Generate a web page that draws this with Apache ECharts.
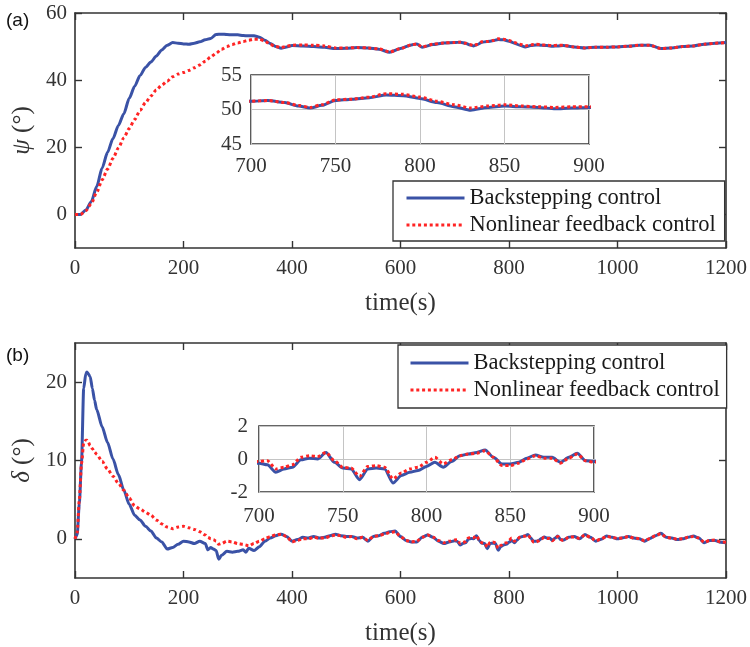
<!DOCTYPE html>
<html>
<head>
<meta charset="utf-8">
<title>Heading and rudder response</title>
<script src="https://cdn.jsdelivr.net/npm/echarts@6/dist/echarts.min.js"></script>
<style>
  html, body { margin: 0; padding: 0; background: #fff; }
  #chart { width: 750px; height: 647px; }
</style>
</head>
<body>
<div id="chart"></div>
<script>
// ---- panel (a): heading angle psi (deg) ----
const timeA = [0,10,20,30,40,50,60,70,80,90,100,110,120,130,140,150,160,170,180,190,
  200,210,220,230,240,250,260,270,280,290,300,310,320,330,340,350,360,370,380,390,
  400,420,440,460,480,500,520,540,560,580,600,620,630,640,660,680,
  700,710,720,728,735,742,750,760,770,780,790,800,810,820,830,840,850,860,870,880,890,900,
  920,940,960,980,1000,1020,1040,1060,1080,1100,1120,1140,1160,1180,1200];

const psiBackstepping = [0,0,1.3,3.8,8.3,13.8,18.5,22.6,26.5,30.0,34.6,38.2,41.4,43.8,45.4,47.2,49.0,50.4,51.2,51.0,
  50.8,50.7,51.0,51.4,52.0,52.4,53.6,53.7,53.6,53.5,53.5,53.3,53.2,53.2,52.8,51.9,50.9,50.0,49.5,49.9,
  50.3,50.2,50.0,49.8,49.4,49.5,49.7,49.6,49.2,48.3,49.4,50.5,50.8,49.8,50.6,51.1,
  51.2,51.3,51.0,50.5,50.2,50.6,51.3,51.5,51.7,52.1,52.0,51.6,51.0,50.4,49.9,50.3,50.5,50.4,50.3,50.1,50.2,50.3,
  49.9,49.6,49.8,49.8,49.9,50.1,50.4,50.4,49.4,49.6,50.0,50.2,50.7,51.0,51.2];

const psiNonlinear = [0,0,1.1,3.2,6.6,10.3,13.5,16.7,19.8,22.8,25.6,28.3,31.0,33.3,35.3,37.1,38.5,39.7,41.0,41.8,
  42.3,42.9,43.7,44.5,45.6,46.9,48.0,49.2,50.0,50.6,51.1,51.5,51.9,52.2,52.2,51.6,50.6,50.0,49.7,50.1,
  50.4,50.5,50.4,50.2,49.6,49.6,49.7,49.6,49.3,48.4,49.4,50.5,50.8,49.9,50.7,51.1,
  51.2,51.3,51.0,50.6,50.3,50.7,51.4,51.5,51.8,52.3,52.2,51.8,51.2,50.7,50.2,50.5,50.7,50.5,50.4,50.3,50.4,50.4,
  49.9,49.6,49.8,49.8,49.9,50.1,50.4,50.4,49.4,49.6,50.0,50.2,50.7,51.0,51.2];

// ---- panel (b): rudder angle delta (deg) ----
const timeB = [0,4,8,12,16,20,22,24,28,32,36,40,50,60,70,80,90,100,110,120,130,140,150,160,170,180,190,
  200,210,220,230,240,245,250,255,260,265,270,280,290,300,310,315,320,330,340,350,360,370,380,390,
  400,410,420,430,440,450,460,470,480,490,500,510,520,530,540,550,560,570,580,590,
  600,610,620,630,640,650,660,670,680,690,
  700,705,710,715,720,725,730,735,740,745,750,755,760,765,770,775,780,785,790,795,
  800,805,810,815,820,825,830,835,840,845,850,855,860,865,870,875,880,885,890,895,900,
  910,920,930,940,950,960,970,980,990,1000,1010,1020,1030,1040,1050,1060,1070,1080,1090,1100,
  1110,1120,1130,1140,1150,1160,1170,1180,1190,1200];

const deltaBackstepping = [0,0.5,4.5,9.8,19.2,21.1,21.3,21.1,20.7,19.2,17.7,16.5,14.3,12.3,10.2,8.2,6.2,4.4,3.0,2.4,1.6,1.0,0.1,-0.4,-1.3,-1.1,-0.7,
  -0.3,-0.4,-0.6,-0.3,-0.6,-1.4,-1.1,-1.3,-1.5,-2.6,-2.1,-1.6,-1.7,-1.6,-1.4,-1.7,-1.2,-1.5,-1.0,-0.3,0.1,0.4,0.6,0.3,
  -0.3,-0.1,0.2,0.1,0.3,0.1,0.2,0.4,0.6,0.4,0.3,0.3,0.1,0.2,-0.3,0.3,0.4,0.7,0.9,1.0,
  0.3,-0.2,-0.4,-0.4,0.2,0.5,0.2,-0.3,-0.6,-0.4,
  -0.25,-0.35,-0.8,-0.6,-0.5,-0.05,0.05,0.0,0.4,-0.2,-0.55,-0.6,-1.25,-0.6,-0.55,-0.6,-1.45,-1.0,-0.8,-0.7,
  -0.45,-0.2,-0.5,-0.15,0.2,0.3,0.4,0.55,0.1,-0.3,-0.3,-0.2,0.05,0.25,0.1,0.1,-0.2,0.1,0.35,-0.1,-0.15,
  0.2,0.3,0.0,0.55,0.2,-0.3,-0.05,0.35,0.2,0.0,0.15,0.3,0.1,0.0,-0.3,0.05,0.4,0.7,0.2,0.1,
  -0.1,0.0,0.2,0.35,0.1,-0.5,-0.2,-0.2,-0.45,-0.5];

const deltaNonlinear = [0,0.8,5.0,9.6,12.2,12.6,12.6,12.4,11.9,11.5,11.1,10.8,9.9,8.9,8.0,7.1,6.2,5.2,4.2,3.8,3.4,3.0,2.4,1.9,1.5,1.3,1.5,
  1.6,1.4,1.2,0.9,0.5,0.2,0.0,-0.1,-0.3,-0.7,-0.6,-0.3,-0.4,-0.6,-0.7,-0.8,-0.9,-0.6,-0.3,0.0,0.3,0.5,0.6,0.3,
  -0.4,-0.2,0.0,0.0,0.2,0.1,0.1,0.3,0.5,0.4,0.2,0.3,0.0,0.2,-0.2,0.3,0.4,0.6,0.8,0.9,
  0.3,-0.2,-0.4,-0.3,0.2,0.5,0.2,-0.2,-0.5,-0.3,
  -0.15,-0.1,-0.6,-0.5,-0.35,0.1,0.2,0.15,0.4,-0.1,-0.5,-0.55,-1.05,-0.45,-0.4,-0.5,-1.2,-0.85,-0.6,-0.5,
  -0.2,0.1,-0.3,-0.05,0.2,0.3,0.35,0.5,0.1,-0.4,-0.4,-0.25,0.0,0.2,0.05,0.05,-0.25,0.05,0.3,-0.1,-0.2,
  0.2,0.25,0.05,0.5,0.2,-0.25,0.0,0.3,0.2,0.05,0.1,0.3,0.1,0.05,-0.25,0.05,0.4,0.65,0.2,0.1,
  -0.05,0.0,0.2,0.3,0.1,-0.45,-0.2,-0.15,-0.4,-0.45];

// ---- axis ticks ----
const timeTicks = { min: 0, max: 1200, interval: 200 };
const zoomTicks = { min: 700, max: 900, interval: 50 };
const psiTickValues = [0, 20, 40, 60];
const deltaTickValues = [0, 10, 20];

const seriesNames = ['Backstepping control', 'Nonlinear feedback control'];

const pairs = (t, v) => t.map((x, i) => [x, v[i]]);
const plainNumber = v => String(v);

const SERIF = 'Liberation Serif';
const AX = '#333333';
const BLUE = '#3a52a6';
const RED = '#ff2424';

function mainX(grid, withName) {
  return {
    type: 'value', gridIndex: grid, position: 'bottom',
    min: timeTicks.min, max: timeTicks.max, interval: timeTicks.interval,
    axisLine: { show: true, onZero: false, lineStyle: { color: AX, width: 1.6 } },
    axisTick: { show: true, inside: true, length: 7, lineStyle: { color: AX, width: 1.4 } },
    axisLabel: { show: withName, margin: 10, formatter: plainNumber, fontFamily: SERIF, fontSize: 21, color: AX },
    splitLine: { show: false },
    name: withName ? 'time(s)' : '',
    nameLocation: 'middle', nameGap: 43,
    nameTextStyle: { fontFamily: SERIF, fontSize: 25, color: AX }
  };
}
function topX(grid) {
  const a = mainX(grid, false);
  a.position = 'top';
  return a;
}
function mainY(grid, lo, hi, ticks, label) {
  return {
    type: 'value', gridIndex: grid, position: 'left', min: lo, max: hi,
    axisLine: { show: true, onZero: false, lineStyle: { color: AX, width: 1.6 } },
    axisTick: { show: true, inside: true, length: 7, customValues: ticks, lineStyle: { color: AX, width: 1.4 } },
    axisLabel: { show: !!label, margin: 8, customValues: ticks, formatter: plainNumber, fontFamily: SERIF, fontSize: 21, color: AX },
    splitLine: { show: false },
    name: label || '',
    nameLocation: 'middle', nameGap: 37, nameRotate: 90,
    nameTextStyle: {
      fontFamily: SERIF, fontSize: 25, color: AX,
      rich: { i: { fontFamily: SERIF, fontStyle: 'italic', fontSize: 25, color: AX } }
    }
  };
}
function rightY(grid, lo, hi, ticks) {
  const a = mainY(grid, lo, hi, ticks, null);
  a.position = 'right';
  return a;
}
function insetX(grid, margin) {
  return {
    type: 'value', gridIndex: grid, min: zoomTicks.min, max: zoomTicks.max, interval: zoomTicks.interval,
    axisLine: { show: false },
    axisTick: { show: false },
    axisLabel: { margin: margin, formatter: plainNumber, fontFamily: SERIF, fontSize: 21, color: AX },
    splitLine: { show: true, lineStyle: { color: '#c4c4c4', width: 1 } }
  };
}
function insetY(grid, lo, hi, step, margin) {
  return {
    type: 'value', gridIndex: grid, min: lo, max: hi, interval: step,
    axisLine: { show: false },
    axisTick: { show: false },
    axisLabel: { margin: margin, formatter: plainNumber, fontFamily: SERIF, fontSize: 21, color: AX },
    splitLine: { show: true, lineStyle: { color: '#c4c4c4', width: 1 } }
  };
}
function curve(name, data, xi, yi, dotted) {
  return {
    name: name, type: 'line', xAxisIndex: xi, yAxisIndex: yi,
    data: data, showSymbol: false, symbol: 'none',
    smooth: 0.25, smoothMonotone: 'x', clip: true,
    z: dotted ? 4 : 3,
    lineStyle: dotted
      ? { color: RED, width: 3, type: [3, 2.8], cap: 'butt' }
      : { color: BLUE, width: 3 },
    itemStyle: { color: dotted ? RED : BLUE },
    emphasis: { disabled: true }
  };
}
// legend rows: a plain line sample, no marker dot
function legendBox(left, top, padding) {
  return {
    data: seriesNames, orient: 'vertical', left: left, top: top,
    itemWidth: 58, itemHeight: 0.2, itemGap: 3, padding: padding,
    backgroundColor: '#fff', borderColor: AX, borderWidth: 1.3,
    selectedMode: false,
    itemStyle: { opacity: 0 },
    lineStyle: { width: 3 },
    textStyle: { fontFamily: SERIF, fontSize: 22.5, color: '#1a1a1a', lineHeight: 24 }
  };
}
const panelTitle = (txt, top) => ({
  text: txt, left: 6, top: top, padding: 0,
  textStyle: { fontFamily: 'Liberation Sans', fontSize: 19, fontWeight: 'normal', color: '#111' }
});

const option = {
  animation: false,
  backgroundColor: '#fff',
  title: [panelTitle('(a)', 11), panelTitle('(b)', 346)],
  legend: [legendBox(393, 181, [5, 9, 4, 12]), legendBox(398, 345, [6, 7, 6, 11])],
  grid: [
    { left: 75, top: 13, width: 652, height: 235 },
    { left: 251, top: 75, width: 338, height: 69, show: true, backgroundColor: '#fff', borderColor: AX, borderWidth: 1.6 },
    { left: 75, top: 343, width: 652, height: 235 },
    { left: 259, top: 426, width: 335, height: 66, show: true, backgroundColor: '#fff', borderColor: AX, borderWidth: 1.6 }
  ],
  xAxis: [
    mainX(0, true), topX(0), insetX(1, 12),
    mainX(2, true), topX(2), insetX(3, 14)
  ],
  yAxis: [
    mainY(0, -10, 60, psiTickValues, '{i|ψ} (°)'), rightY(0, -10, 60, psiTickValues), insetY(1, 45, 55, 5, 9),
    mainY(2, -5, 25, deltaTickValues, '{i|δ} (°)'), rightY(2, -5, 25, deltaTickValues), insetY(3, -2, 2, 2, 11)
  ],
  series: [
    curve(seriesNames[0], pairs(timeA, psiBackstepping), 0, 0, false),
    curve(seriesNames[1], pairs(timeA, psiNonlinear), 0, 0, true),
    curve(seriesNames[0], pairs(timeA, psiBackstepping), 2, 2, false),
    curve(seriesNames[1], pairs(timeA, psiNonlinear), 2, 2, true),
    curve(seriesNames[0], pairs(timeB, deltaBackstepping), 3, 3, false),
    curve(seriesNames[1], pairs(timeB, deltaNonlinear), 3, 3, true),
    curve(seriesNames[0], pairs(timeB, deltaBackstepping), 5, 5, false),
    curve(seriesNames[1], pairs(timeB, deltaNonlinear), 5, 5, true)
  ]
};

const chart = echarts.init(document.getElementById('chart'), null, { renderer: 'canvas' });
chart.setOption(option);
</script>
</body>
</html>
